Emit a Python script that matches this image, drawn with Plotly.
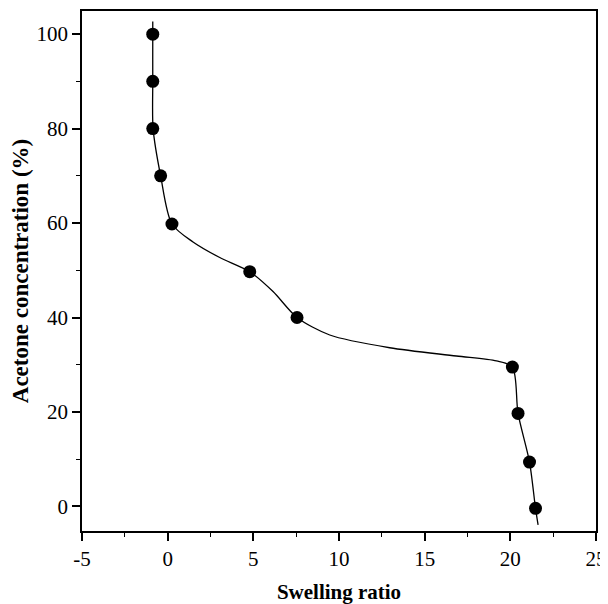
import plotly.graph_objects as go

# Measured data points
swelling_ratio = [-0.87, -0.87, -0.87, -0.41, 0.25, 4.79, 7.55, 20.12, 20.45, 21.12, 21.47]
acetone_conc = [100, 90, 80, 70, 59.8, 49.7, 40.0, 29.5, 19.7, 9.4, -0.4]

# Fitted smooth curve
curve_x = [-0.87, -0.87, -0.87, -0.85, -0.41, 0.25, 1.48, 3.04, 4.79, 6.15, 7.55,
           9.46, 12.96, 16.85, 19.19, 20.12, 20.45, 21.12, 21.47, 21.62]
curve_y = [102.7, 100, 90, 80, 70, 59.8, 56.0, 52.7, 49.7, 45.5, 40.0,
           36.3, 33.6, 31.85, 30.8, 29.5, 19.7, 9.4, -0.4, -3.9]

x_ticks = [-5, 0, 5, 10, 15, 20, 25]
y_ticks = [0, 20, 40, 60, 80, 100]

FONT = "Liberation Serif"

fig = go.Figure()
fig.add_trace(go.Scatter(
    x=curve_x, y=curve_y, mode="lines",
    line=dict(color="black", width=1.3, shape="spline", smoothing=0.8),
    showlegend=False, hoverinfo="skip"))
fig.add_trace(go.Scatter(
    x=swelling_ratio, y=acetone_conc, mode="markers",
    marker=dict(color="black", size=13),
    showlegend=False))

axis_common = dict(
    showline=True, linecolor="black", linewidth=1.8, mirror=True,
    showgrid=False, zeroline=False, ticks="outside", ticklen=8,
    tickwidth=1.5, tickcolor="black", automargin=False,
    tickfont=dict(family=FONT, size=21, color="black"),
)

# The page body adds an 8px offset, so the figure is 600x596 to fit the window.
fig.update_layout(
    width=600, height=596,
    margin=dict(l=74, r=12, t=3, b=73),
    plot_bgcolor="white", paper_bgcolor="white",
    xaxis=dict(
        range=[-5, 25], tickvals=x_ticks, ticktext=[str(v) for v in x_ticks],
        minor=dict(dtick=2.5, tick0=-5, ticks="outside", ticklen=4, tickcolor="black", tickwidth=1.3),
        title=dict(text="<b>Swelling ratio</b>", font=dict(family=FONT, size=21, color="black"), standoff=17),
        **axis_common),
    yaxis=dict(
        range=[-5.2, 104.9], tickvals=y_ticks, ticktext=[str(v) for v in y_ticks],
        minor=dict(dtick=10, tick0=0, ticks="outside", ticklen=4, tickcolor="black", tickwidth=1.3),
        title=dict(text="<b>Acetone concentration (%)</b>", font=dict(family=FONT, size=23, color="black"), standoff=4),
        **axis_common),
)

fig.write_html("out.html")
